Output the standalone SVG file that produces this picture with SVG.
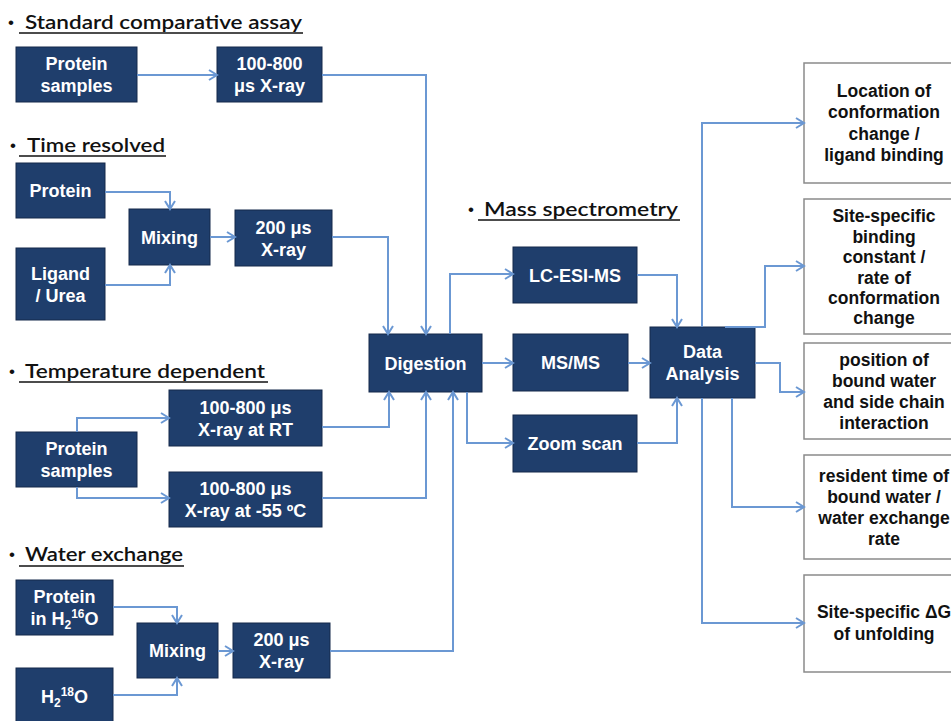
<svg xmlns="http://www.w3.org/2000/svg" width="951" height="721" viewBox="0 0 951 721">
<style>
.hd{font-family:Lato,"Open Sans","Liberation Sans",sans-serif;font-size:19px;font-weight:600;fill:#111}
.bl{font-family:"Liberation Sans",Arial,sans-serif;font-size:17px;fill:#111}
.ul{stroke:#111;stroke-width:1.4}
.bx{fill:#1f3e6c;stroke:#15294a;stroke-width:1}
.wb{fill:#fff;stroke:#8a8a8a;stroke-width:1.5}
.bt{font-family:"Liberation Sans",Arial,sans-serif;font-size:18px;font-weight:bold;fill:#fff;text-anchor:middle}
.wt{font-family:"Liberation Sans",Arial,sans-serif;font-size:17.5px;font-weight:bold;fill:#111;text-anchor:middle}
.sm{font-size:12px}
.cn path{fill:none;stroke:#6b98d3;stroke-width:2;marker-end:url(#ah)}
</style>
<defs>
<marker id="ah" markerUnits="userSpaceOnUse" markerWidth="12" markerHeight="14" refX="9" refY="6" orient="auto">
<path d="M1,1 L9,6 L1,11" fill="none" stroke="#6b98d3" stroke-width="2"/>
</marker>
</defs>
<rect width="951" height="721" fill="#fff"/>

<g id="headings">
<text class="bl" x="8" y="28">•</text>
<text class="hd" x="25" y="29" textLength="277" lengthAdjust="spacingAndGlyphs">Standard comparative assay</text>
<line class="ul" x1="19" y1="33" x2="303" y2="33"/>
<text class="bl" x="10" y="151">•</text>
<text class="hd" x="27" y="152" textLength="138" lengthAdjust="spacingAndGlyphs">Time resolved</text>
<line class="ul" x1="19" y1="156" x2="166" y2="156"/>
<text class="bl" x="9" y="377">•</text>
<text class="hd" x="25" y="378" textLength="240" lengthAdjust="spacingAndGlyphs">Temperature dependent</text>
<line class="ul" x1="19" y1="382" x2="268" y2="382"/>
<text class="bl" x="9" y="560">•</text>
<text class="hd" x="25" y="561" textLength="158" lengthAdjust="spacingAndGlyphs">Water exchange</text>
<line class="ul" x1="19" y1="566" x2="184" y2="566"/>
<text class="bl" x="468" y="215">•</text>
<text class="hd" x="484" y="216" textLength="194" lengthAdjust="spacingAndGlyphs">Mass spectrometry</text>
<line class="ul" x1="478" y1="220" x2="680" y2="220"/>
</g>

<g id="ps1"><rect class="bx" x="16" y="47" width="121" height="55"/><text class="bt" x="76.5" y="70">Protein</text><text class="bt" x="76.5" y="92">samples</text></g>
<g id="xr1"><rect class="bx" x="217" y="47" width="105" height="55"/><text class="bt" x="269.5" y="70">100-800</text><text class="bt" x="269.5" y="92">μs X-ray</text></g>
<g id="p2"><rect class="bx" x="16" y="163" width="89" height="55"/><text class="bt" x="60.5" y="197">Protein</text></g>
<g id="mix1"><rect class="bx" x="129" y="209" width="81" height="56"/><text class="bt" x="169.5" y="243.5">Mixing</text></g>
<g id="lig"><rect class="bx" x="16" y="248" width="89" height="72"/><text class="bt" x="60.5" y="280">Ligand</text><text class="bt" x="60.5" y="302">/ Urea</text></g>
<g id="xr2"><rect class="bx" x="235" y="210" width="97" height="56"/><text class="bt" x="283.5" y="233.5">200 μs</text><text class="bt" x="283.5" y="255.5">X-ray</text></g>
<g id="ps3"><rect class="bx" x="16" y="432" width="121" height="55"/><text class="bt" x="76.5" y="455">Protein</text><text class="bt" x="76.5" y="477">samples</text></g>
<g id="rt"><rect class="bx" x="169" y="390" width="153" height="56"/><text class="bt" x="245.5" y="413.5">100-800 μs</text><text class="bt" x="245.5" y="435.5">X-ray at RT</text></g>
<g id="cold"><rect class="bx" x="169" y="472" width="153" height="55"/><text class="bt" x="245.5" y="495">100-800 μs</text><text class="bt" x="245.5" y="517">X-ray at -55 ºC</text></g>
<g id="pw"><rect class="bx" x="16" y="580" width="97" height="55"/><text class="bt" x="64.5" y="603">Protein</text><text class="bt" x="64.5" y="625">in H<tspan class="sm" dy="4">2</tspan><tspan class="sm" dy="-11">16</tspan><tspan dy="7">O</tspan></text></g>
<g id="mix2"><rect class="bx" x="137" y="623" width="81" height="55"/><text class="bt" x="177.5" y="657">Mixing</text></g>
<g id="xr4"><rect class="bx" x="233" y="623" width="97" height="55"/><text class="bt" x="281.5" y="646">200 μs</text><text class="bt" x="281.5" y="668">X-ray</text></g>
<g id="h218o"><rect class="bx" x="16" y="668" width="97" height="58"/><text class="bt" x="64.5" y="703">H<tspan class="sm" dy="4">2</tspan><tspan class="sm" dy="-11">18</tspan><tspan dy="7">O</tspan></text></g>
<g id="dig"><rect class="bx" x="369" y="334" width="113" height="58"/><text class="bt" x="425.5" y="369.5">Digestion</text></g>
<g id="lc"><rect class="bx" x="513" y="247" width="124" height="56"/><text class="bt" x="575" y="281.5">LC-ESI-MS</text></g>
<g id="msms"><rect class="bx" x="513" y="334" width="115" height="57"/><text class="bt" x="570.5" y="369">MS/MS</text></g>
<g id="zoom"><rect class="bx" x="513" y="415" width="124" height="57"/><text class="bt" x="575" y="450">Zoom scan</text></g>
<g id="da"><rect class="bx" x="650" y="327" width="105" height="71"/><text class="bt" x="702.5" y="358">Data</text><text class="bt" x="702.5" y="380">Analysis</text></g>

<g id="loc"><rect class="wb" x="804" y="63" width="162" height="120"/><text class="wt" x="884" y="97">Location of</text><text class="wt" x="884" y="118">conformation</text><text class="wt" x="884" y="139.5">change /</text><text class="wt" x="884" y="160.5">ligand binding</text></g>
<g id="bind"><rect class="wb" x="804" y="199" width="162" height="135"/><text class="wt" x="884" y="222">Site-specific</text><text class="wt" x="884" y="242.5">binding</text><text class="wt" x="884" y="263">constant /</text><text class="wt" x="884" y="283.5">rate of</text><text class="wt" x="884" y="304">conformation</text><text class="wt" x="884" y="324">change</text></g>
<g id="pos"><rect class="wb" x="804" y="343" width="162" height="96"/><text class="wt" x="884" y="366">position of</text><text class="wt" x="884" y="387">bound water</text><text class="wt" x="884" y="408">and side chain</text><text class="wt" x="884" y="429">interaction</text></g>
<g id="res"><rect class="wb" x="804" y="455" width="162" height="104"/><text class="wt" x="884" y="482">resident time of</text><text class="wt" x="884" y="502.5">bound water /</text><text class="wt" x="884" y="523.5">water exchange</text><text class="wt" x="884" y="544.5">rate</text></g>
<g id="dg"><rect class="wb" x="804" y="575" width="162" height="97"/><text class="wt" x="884" y="618">Site-specific ΔG</text><text class="wt" x="884" y="640">of unfolding</text></g>

<g id="connectors" class="cn">
<path d="M137,75 H217"/>
<path d="M322,75 H426 V334"/>
<path d="M105,192 H170 V209"/>
<path d="M105,285 H170 V265"/>
<path d="M210,237 H235"/>
<path d="M332,237 H388 V334"/>
<path d="M77,432 V418 H169"/>
<path d="M77,487 V498 H169"/>
<path d="M322,427 H389 V392"/>
<path d="M322,498 H426 V392"/>
<path d="M113,607 H177 V623"/>
<path d="M113,695 H177 V678"/>
<path d="M218,651 H233"/>
<path d="M330,651 H453 V392"/>
<path d="M450,334 V274 H513"/>
<path d="M482,363 H513"/>
<path d="M467,392 V443 H513"/>
<path d="M637,275 H677 V327"/>
<path d="M628,363 H650"/>
<path d="M637,443 H677 V398"/>
<path d="M702,327 V123 H804"/>
<path d="M725,327 H765 V266 H804"/>
<path d="M755,363 H780 V392 H804"/>
<path d="M732,398 V507 H804"/>
<path d="M702,398 V623 H804"/>
</g>
</svg>
